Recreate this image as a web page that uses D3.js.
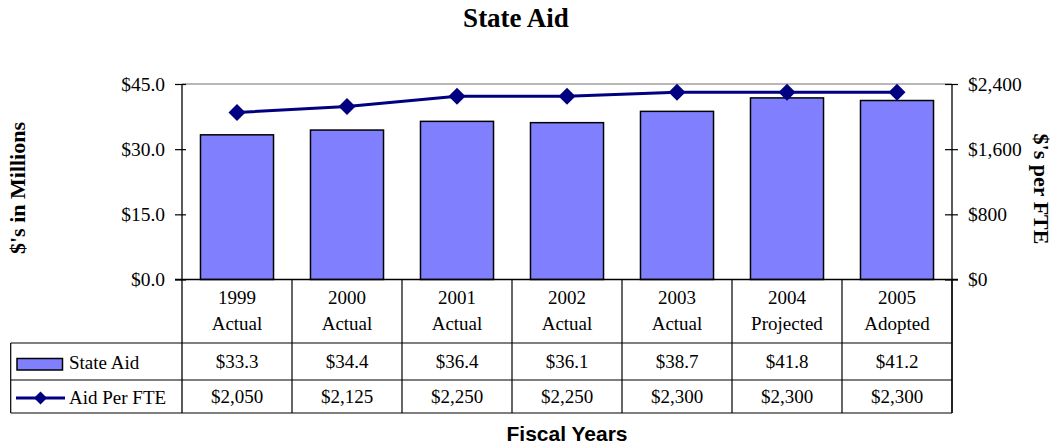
<!DOCTYPE html>
<html>
<head>
<meta charset="utf-8">
<script src="https://cdn.jsdelivr.net/npm/d3@7"></script>
<style>
  html, body { margin: 0; padding: 0; background: #fff; }
  svg { display: block; }
  text { font-family: "Liberation Serif", "Times New Roman", serif; fill: #000; }
</style>
</head>
<body>
<svg id="chart" width="1055" height="444"></svg>
<script>
// ---- data ----
const years = ["1999", "2000", "2001", "2002", "2003", "2004", "2005"];
const status = ["Actual", "Actual", "Actual", "Actual", "Actual", "Projected", "Adopted"];
const stateAid = [33.3, 34.4, 36.4, 36.1, 38.7, 41.8, 41.2];
const aidPerFTE = [2050, 2125, 2250, 2250, 2300, 2300, 2300];
const leftTicks = [0, 15, 30, 45];
const rightTicks = [0, 800, 1600, 2400];
const seriesNames = ["State Aid", "Aid Per FTE"];

// ---- layout ----
const svg = d3.select("#chart");
const X0 = 182, X1 = 952, YT = 84, YB = 279.5;
const tableLeft = 10.7, row1 = 343, row2 = 380, tableBottom = 413;
const barColor = "#8080FF", lineColor = "#000080";

const x = d3.scaleBand().domain(years).range([X0, X1]).paddingInner(0.336).paddingOuter(0.168);
const xCell = d3.scaleBand().domain(years).range([X0, X1]).padding(0);
const yL = d3.scaleLinear().domain([0, 45]).range([YB, YT]);
const yR = d3.scaleLinear().domain([0, 2400]).range([YB, YT]);

// title
svg.append("text").attr("x", 516).attr("y", 27).attr("text-anchor", "middle")
  .style("font-size", "27px").style("font-weight", "bold").text("State Aid");

// plot top border (light gray)
svg.append("line").attr("x1", X0).attr("x2", X1).attr("y1", YT).attr("y2", YT)
  .attr("stroke", "#a0a0a0").attr("stroke-width", 1.5);

// bars
svg.append("g").selectAll("rect").data(years).join("rect")
  .attr("x", d => x(d))
  .attr("width", x.bandwidth())
  .attr("y", (d, i) => yL(stateAid[i]))
  .attr("height", (d, i) => YB - yL(stateAid[i]))
  .attr("fill", barColor).attr("stroke", "#000").attr("stroke-width", 1.5);

// left axis
const gL = svg.append("g").attr("transform", `translate(${X0},0)`)
  .call(d3.axisLeft(yL).tickValues(leftTicks).tickFormat(d => "$" + d3.format(".1f")(d)).tickSize(7).tickPadding(10));
gL.select(".domain").remove();
gL.selectAll(".tick line").attr("stroke", "#000").attr("stroke-width", 1.2).attr("x2", -7).attr("x1", 4);
gL.selectAll(".tick text").style("font-family", "Liberation Serif, serif").style("font-size", "19.5px").attr("fill", "#000");

// right axis
const gR = svg.append("g").attr("transform", `translate(${X1},0)`)
  .call(d3.axisRight(yR).tickValues(rightTicks).tickFormat(d => "$" + d3.format(",")(d)).tickSize(6).tickPadding(10));
gR.select(".domain").remove();
gR.selectAll(".tick line").attr("stroke", "#000").attr("stroke-width", 1.2).attr("x1", -7).attr("x2", 6);
gR.selectAll(".tick text").style("font-family", "Liberation Serif, serif").style("font-size", "19.5px").attr("fill", "#000");

// axis lines
svg.append("line").attr("x1", X0).attr("x2", X0).attr("y1", YT).attr("y2", tableBottom).attr("stroke", "#000").attr("stroke-width", 1.3);
svg.append("line").attr("x1", X1).attr("x2", X1).attr("y1", YT).attr("y2", tableBottom).attr("stroke", "#000").attr("stroke-width", 1.3);
svg.append("line").attr("x1", X0 - 7).attr("x2", X1 + 6).attr("y1", YB).attr("y2", YB).attr("stroke", "#000").attr("stroke-width", 1.3);

// line series
const cx = d => x(d) + x.bandwidth() / 2;
svg.append("path")
  .datum(years)
  .attr("d", d3.line().x(d => cx(d)).y((d, i) => yR(aidPerFTE[i])))
  .attr("fill", "none").attr("stroke", lineColor).attr("stroke-width", 3);
const diamond = s => `M0,${-s}L${s},0L0,${s}L${-s},0Z`;
svg.append("g").selectAll("path").data(years).join("path")
  .attr("transform", (d, i) => `translate(${cx(d)},${yR(aidPerFTE[i])})`)
  .attr("d", diamond(8.5)).attr("fill", lineColor);

// ---- data table ----
const grid = svg.append("g").attr("stroke", "#000").attr("stroke-width", 1.2);
// column separators
grid.selectAll("line.v").data(years).join("line").attr("class", "v")
  .attr("x1", d => xCell(d) + xCell.bandwidth()).attr("x2", d => xCell(d) + xCell.bandwidth())
  .attr("y1", YB).attr("y2", tableBottom);
// horizontal rows
[row1, row2, tableBottom].forEach(yy => {
  grid.append("line").attr("x1", tableLeft).attr("x2", X1).attr("y1", yy).attr("y2", yy);
});
grid.append("line").attr("x1", tableLeft).attr("x2", tableLeft).attr("y1", row1).attr("y2", tableBottom);

const tfs = "19px";
const hdr = svg.append("g").attr("text-anchor", "middle").style("font-size", tfs);
hdr.selectAll("text.yr").data(years).join("text").attr("class", "yr")
  .attr("x", d => xCell(d) + xCell.bandwidth() / 2).attr("y", 304).text(d => d);
hdr.selectAll("text.st").data(years).join("text").attr("class", "st")
  .attr("x", d => xCell(d) + xCell.bandwidth() / 2).attr("y", 330).text((d, i) => status[i]);
hdr.selectAll("text.v1").data(years).join("text").attr("class", "v1")
  .attr("x", d => xCell(d) + xCell.bandwidth() / 2).attr("y", 368).text((d, i) => "$" + d3.format(".1f")(stateAid[i]));
hdr.selectAll("text.v2").data(years).join("text").attr("class", "v2")
  .attr("x", d => xCell(d) + xCell.bandwidth() / 2).attr("y", 403).text((d, i) => "$" + d3.format(",")(aidPerFTE[i]));

// legend keys in table
svg.append("rect").attr("x", 17).attr("y", 358.5).attr("width", 45.5).attr("height", 11.5)
  .attr("fill", barColor).attr("stroke", "#000").attr("stroke-width", 1.5);
svg.append("text").attr("x", 69).attr("y", 369).style("font-size", tfs).text(seriesNames[0]);
svg.append("line").attr("x1", 16).attr("x2", 65).attr("y1", 398).attr("y2", 398)
  .attr("stroke", lineColor).attr("stroke-width", 3);
svg.append("path").attr("transform", "translate(40.5,398)").attr("d", diamond(6.5)).attr("fill", lineColor);
svg.append("text").attr("x", 69).attr("y", 404).style("font-size", tfs).text(seriesNames[1]);

// axis titles
svg.append("text").attr("transform", "translate(25,188) rotate(-90)").attr("text-anchor", "middle")
  .style("font-size", "22px").style("font-weight", "bold").text("$'s in Millions");
svg.append("text").attr("transform", "translate(1034,189) rotate(90)").attr("text-anchor", "middle")
  .style("font-size", "22px").style("font-weight", "bold").text("$'s per FTE");
svg.append("text").attr("x", 567).attr("y", 441).attr("text-anchor", "middle")
  .style("font-family", "Liberation Sans, Arial, sans-serif").style("font-size", "21px").style("font-weight", "bold")
  .text("Fiscal Years");
</script>
</body>
</html>
